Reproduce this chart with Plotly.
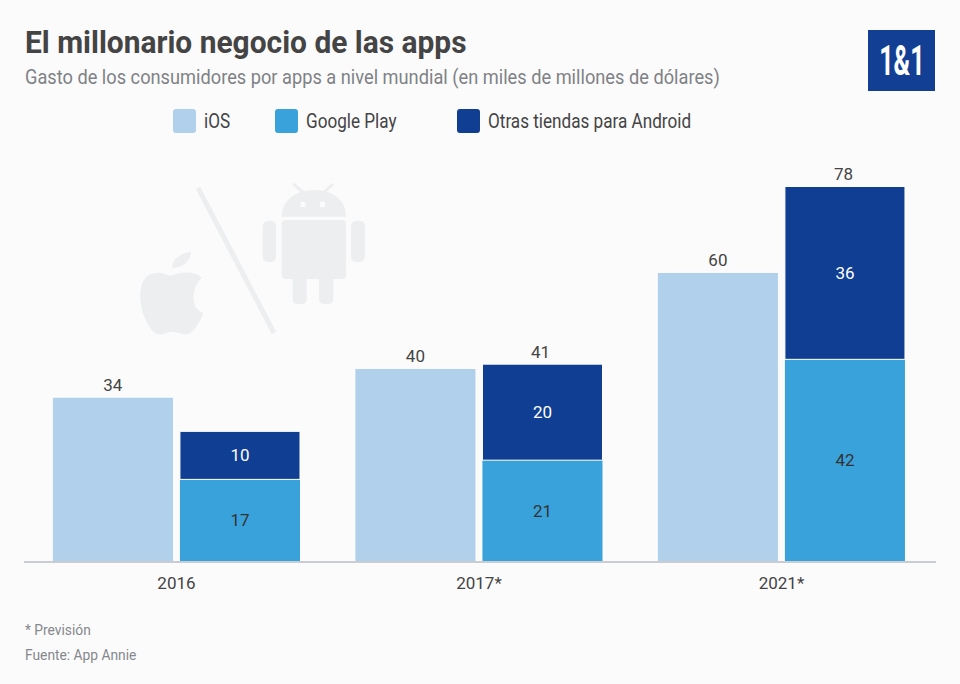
# -*- coding: utf-8 -*-
# gasto en apps, barras agrupadas y apiladas
import json
import plotly.graph_objects as go

years = ['2016', '2017*', '2021*']
ios = [34, 40, 60]
google_play = [17, 21, 42]
otras = [10, 20, 36]
totales = [27, 41, 78]

series_names = ['iOS', 'Google Play', 'Otras tiendas para Android']
colors = ['#B1D0EC', '#3AA2DB', '#0F3E92']

W, H = 960, 684
L, R, T, B = 24, 24, 150, 123
FONT = 'Roboto'
ICON = '#EDEEF0'
BG = '#FBFBFC'


# pixel -> paper helpers for the decoration
def px(x):
    return (x - L) / (W - L - R)


def py(y):
    return 1 - (y - T) / (H - T - B)


def path(points):
    # points: list of commands, each (letter, x1, y1, x2, y2...)
    out = ''
    for p in points:
        out += p[0]
        vals = p[1:]
        for i in range(0, len(vals), 2):
            out += f'{px(vals[i]):.5f},{py(vals[i + 1]):.5f} '
    return out


def rect(x0, y0, x1, y1, color, line=0):
    return dict(type='rect', xref='paper', yref='paper', x0=px(x0), x1=px(x1), y0=py(y0), y1=py(y1),
                fillcolor=color, line_width=line, layer='below')


def round_rect(x0, y0, x1, y1, r, color):
    p = path([('M', x0 + r, y0), ('L', x1 - r, y0), ('Q', x1, y0, x1, y0 + r), ('L', x1, y1 - r),
              ('Q', x1, y1, x1 - r, y1), ('L', x0 + r, y1), ('Q', x0, y1, x0, y1 - r), ('L', x0, y0 + r),
              ('Q', x0, y0, x0 + r, y0)]) + 'Z'
    return dict(type='path', xref='paper', yref='paper', path=p, fillcolor=color, line_width=0, layer='below')


def blob(points, color):
    return dict(type='path', xref='paper', yref='paper', path=path(points) + 'Z', fillcolor=color,
                line_width=0, layer='below')


def stroke(x0, y0, x1, y1, width, color):
    return dict(type='line', xref='paper', yref='paper', x0=px(x0), x1=px(x1), y0=py(y0), y1=py(y1),
                line=dict(color=color, width=width), layer='below')


fig = go.Figure()
fig.add_trace(go.Bar(x=years, y=ios, name=series_names[0], offsetgroup='a', marker_color=colors[0],
                     marker_line_width=0, text=ios, textposition='outside', cliponaxis=False,
                     textfont=dict(color='#444444', size=17, family=FONT)))
fig.add_trace(go.Bar(x=years, y=google_play, name=series_names[1], offsetgroup='b', marker_color=colors[1],
                     marker_line_width=0, text=google_play, textposition='inside', insidetextanchor='middle',
                     textangle=0, textfont=dict(color='#333333', size=17, family=FONT)))
fig.add_trace(go.Bar(x=years, y=otras, base=google_play, name=series_names[2], offsetgroup='b',
                     marker_color=colors[2], marker_line=dict(color='#FFFFFF', width=1), text=otras,
                     textposition='inside', insidetextanchor='middle', textangle=0,
                     textfont=dict(color='#FFFFFF', size=17, family=FONT)))

shapes = []

# apple
shapes.append(blob([('M', 170, 276), ('C', 163, 272, 150, 270, 144, 280), ('C', 137, 292, 140, 315, 152, 330),
                    ('C', 158, 337, 163, 334, 170, 332), ('C', 177, 331, 182, 336, 188, 334),
                    ('C', 194, 332, 200, 322, 203.5, 313), ('C', 195, 310, 192, 302, 194, 293),
                    ('C', 195, 286, 198, 282, 201.5, 278), ('C', 197, 271, 182, 271, 170, 276)], ICON))
shapes.append(blob([('M', 172, 268), ('C', 172, 260, 180, 253, 191, 252), ('C', 191, 260, 183, 268, 172, 268)], ICON))
# slash
shapes.append(stroke(198, 188, 274, 333, 5, ICON))
# android
shapes.append(blob([('M', 281.7, 216.7), ('C', 281.7, 200, 296, 190, 314, 190), ('C', 332, 190, 346, 200, 346, 216.7)], ICON))
shapes.append(round_rect(281.7, 220, 346, 279, 4, ICON))
shapes.append(round_rect(262.7, 220.7, 276, 262, 6, ICON))
shapes.append(round_rect(351, 220.7, 365, 262, 6, ICON))
shapes.append(round_rect(292.7, 270, 306.7, 304, 5, ICON))
shapes.append(round_rect(319, 270, 333.3, 304, 5, ICON))
shapes.append(stroke(293.5, 184, 305, 194, 3, ICON))
shapes.append(stroke(333, 184, 322, 194, 3, ICON))
shapes.append(rect(300.5, 202, 305.5, 207, BG))
shapes.append(rect(320, 202, 325, 207, BG))

# logo
shapes.append(rect(868, 30, 935, 91, '#123F94'))

# legend swatches
swatch_x = [173, 275, 457]
for sx, c in zip(swatch_x, colors):
    shapes.append(round_rect(sx, 109, sx + 23, 133, 3, c))

annotations = []
squeeze = []  # horizontal scale per annotation, the original font is a condensed one


def label(x, y, text, size, color, anchor='left', bold=False, scale=1.0):
    if bold:
        text = '<b>' + text + '</b>'
    annotations.append(dict(xref='paper', yref='paper', x=px(x), y=py(y), text=text, showarrow=False,
                            xanchor=anchor, yanchor='middle', align=anchor,
                            font=dict(size=size, color=color, family=FONT)))
    squeeze.append([scale, anchor])


label(23, 42, 'El millonario negocio de las apps', 32, '#444444', bold=True, scale=0.935)
label(23, 77, 'Gasto de los consumidores por apps a nivel mundial (en miles de millones de dólares)', 21,
      '#7F8285', scale=0.868)
label(901.5, 61, '1&1', 42, '#FFFFFF', anchor='center', bold=True, scale=0.6)
for sx, name in zip(swatch_x, series_names):
    label(sx + 29, 121, name, 20, '#444444', scale=0.857)
label(23, 630, '* Previsión', 15, '#85888B', scale=0.92)
label(23, 655, 'Fuente: App Annie', 15, '#85888B', scale=0.92)

# totals above the stacked columns
for year, total in zip(years, totales):
    annotations.append(dict(x=year, y=total, xref='x', yref='y', text=str(total), showarrow=False,
                            xshift=62, yanchor='bottom', yshift=0,
                            font=dict(size=17, color='#444444', family=FONT)))
    squeeze.append([1.0, 'center'])

fig.update_layout(
    width=W, height=H,
    margin=dict(l=L, r=R, t=T, b=B, pad=0),
    paper_bgcolor=BG, plot_bgcolor='rgba(0,0,0,0)',
    barmode='group', bargap=0.16, bargroupgap=0.055,
    showlegend=False,
    font=dict(family=FONT, color='#444444'),
    shapes=shapes, annotations=annotations,
    uniformtext=dict(mode=False),
)
fig.update_xaxes(type='category', range=[-0.504, 2.511], showgrid=False, showline=True, linecolor='#C9CDD1',
                 linewidth=1.5, ticks='', tickfont=dict(size=17, color='#444444', family=FONT), ticklabelstandoff=6)
fig.update_yaxes(range=[0, 85.6], visible=False, showgrid=False, zeroline=False)

# page margin would shift everything by 8px, and squeeze the annotation texts
post = """
document.body.style.margin = '0';
var squeeze = %s;
document.querySelectorAll('.annotation').forEach(function (a) {
    var s = squeeze[+a.getAttribute('data-index')];
    var t = a.querySelector('text');
    if (!s || !t || s[0] === 1) return;
    t.style.transformBox = 'fill-box';
    t.style.transformOrigin = s[1] + ' center';
    t.style.transform = 'scaleX(' + s[0] + ')';
});
""" % json.dumps(squeeze)

fig.write_html('out.html', post_script=post, config={'displayModeBar': False})
